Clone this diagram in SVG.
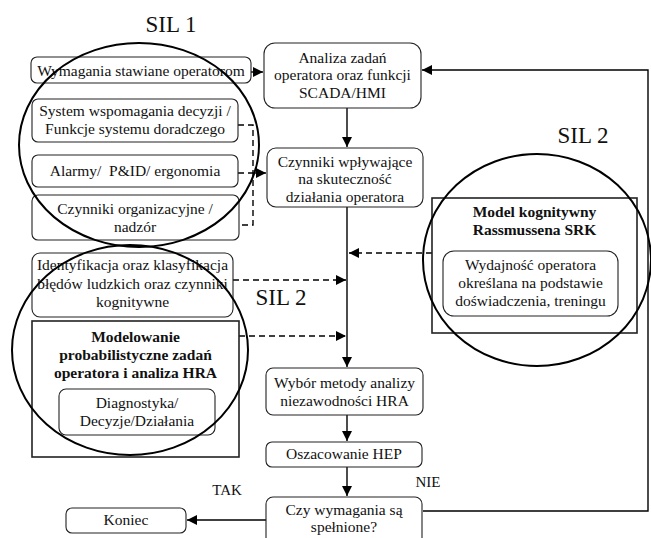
<svg xmlns="http://www.w3.org/2000/svg" width="651" height="538" viewBox="0 0 651 538">
<defs>
<marker id="ah" viewBox="0 0 10 10" refX="10" refY="5" markerWidth="10" markerHeight="10" markerUnits="userSpaceOnUse" orient="auto">
<path d="M0,0 L10,5 L0,10 z" fill="#000"/>
</marker>
<style>
text{font-family:"Liberation Serif","Times New Roman",serif;font-size:15.5px;fill:#111;text-anchor:middle}
.b{font-weight:bold}
.sil{font-size:23px}
.box{fill:#fff;stroke:#222;stroke-width:1.1}
.sq{fill:#fff;stroke:#222;stroke-width:1.6}
.ell{fill:none;stroke:#000;stroke-width:2}
.ln{fill:none;stroke:#000;stroke-width:1.4}
.dash{fill:none;stroke:#000;stroke-width:1.4;stroke-dasharray:6,4}
</style>
</defs>
<rect width="651" height="538" fill="#fff"/>

<g id="connectors">
<line class="ln" x1="251" y1="72" x2="263" y2="72" marker-end="url(#ah)"/>
<line class="ln" x1="347" y1="108" x2="347" y2="147" marker-end="url(#ah)"/>
<path class="dash" d="M238,125 H253 V225 H239"/>
<line class="dash" x1="238" y1="173" x2="253" y2="173"/>
<line class="ln" x1="253" y1="173" x2="266" y2="173" marker-end="url(#ah)"/>
<line class="ln" x1="347" y1="207" x2="347" y2="367" marker-end="url(#ah)"/>
<line class="dash" x1="432" y1="253" x2="349" y2="253" marker-end="url(#ah)"/>
<line class="dash" x1="233" y1="280" x2="346" y2="280" marker-end="url(#ah)"/>
<line class="dash" x1="239" y1="336" x2="346" y2="336" marker-end="url(#ah)"/>
<line class="ln" x1="347" y1="415" x2="347" y2="441" marker-end="url(#ah)"/>
<line class="ln" x1="347" y1="467" x2="347" y2="496" marker-end="url(#ah)"/>
<line class="ln" x1="266" y1="520" x2="187" y2="520" marker-end="url(#ah)"/>
<path class="ln" d="M423,511 H648 V70 H422" marker-end="url(#ah)"/>
</g>

<g id="wymagania"><rect class="box" x="31" y="57" width="220" height="26" rx="6"/><text x="141" y="76">Wymagania stawiane operatorom</text></g>
<g id="analiza"><rect class="box" x="264" y="43" width="157" height="65" rx="11"/><text x="342.5" y="63">Analiza zadań</text><text x="342.5" y="80">operatora oraz funkcji</text><text x="342.5" y="98">SCADA/HMI</text></g>
<g id="system"><rect class="box" x="32" y="99" width="206" height="43" rx="6"/><text x="135" y="116">System wspomagania decyzji /</text><text x="135" y="134">Funkcje systemu doradczego</text></g>
<g id="alarmy"><rect class="box" x="32" y="155" width="206" height="32" rx="6"/><text x="135" y="176" xml:space="preserve">Alarmy/  P&amp;ID/ ergonomia</text></g>
<g id="czynniki-org"><rect class="box" x="32" y="195" width="207" height="45" rx="6"/><text x="135" y="214">Czynniki organizacyjne /</text><text x="135" y="232">nadzór</text></g>
<g id="czynniki"><rect class="box" x="267" y="148" width="156" height="59" rx="9"/><text x="345" y="167">Czynniki wpływające</text><text x="345" y="184">na skuteczność</text><text x="345" y="202">działania operatora</text></g>
<g id="model"><rect class="sq" x="432" y="198" width="205" height="135"/><text class="b" x="534.5" y="217">Model kognitywny</text><text class="b" x="534.5" y="235">Rassmussena SRK</text></g>
<g id="wydajnosc"><rect class="box" x="443" y="251" width="175" height="65" rx="11"/><text x="530.5" y="270">Wydajność operatora</text><text x="530.5" y="288">określana na podstawie</text><text x="530.5" y="306">doświadczenia, treningu</text></g>
<g id="identyfikacja"><rect class="box" x="32" y="253" width="201" height="64" rx="8"/><text x="132.5" y="270">Identyfikacja oraz klasyfikacja</text><text x="132.5" y="289">błędów ludzkich oraz czynniki</text><text x="132.5" y="307">kognitywne</text></g>
<g id="modelowanie"><rect class="sq" x="32" y="321" width="207" height="136"/><text class="b" x="135.5" y="342">Modelowanie</text><text class="b" x="135.5" y="360">probabilistyczne zadań</text><text class="b" x="135.5" y="378">operatora i analiza HRA</text></g>
<g id="diagnostyka"><rect class="box" x="59" y="389" width="156" height="46" rx="7"/><text x="137" y="408">Diagnostyka/</text><text x="137" y="426">Decyzje/Działania</text></g>
<g id="wybor"><rect class="box" x="266" y="368" width="157" height="47" rx="7"/><text x="344.5" y="388">Wybór metody analizy</text><text x="344.5" y="406">niezawodności HRA</text></g>
<g id="oszacowanie"><rect class="box" x="266" y="442" width="156" height="25" rx="6"/><text x="344" y="459">Oszacowanie HEP</text></g>
<g id="czy"><rect class="box" x="266" y="497" width="156" height="50" rx="7"/><text x="344" y="515">Czy wymagania są</text><text x="344" y="532">spełnione?</text></g>
<g id="koniec"><rect class="box" x="66" y="508" width="120" height="25" rx="6"/><text x="126" y="525">Koniec</text></g>

<g id="labels">
<text x="227" y="495" style="font-size:15px">TAK</text>
<text x="428" y="487" style="font-size:15px">NIE</text>
<text class="sil" x="171" y="32">SIL 1</text>
<text class="sil" x="583" y="143">SIL 2</text>
<text class="sil" x="281" y="305">SIL 2</text>
</g>

<g id="sil-ellipses">
<ellipse class="ell" cx="139" cy="145" rx="120" ry="102"/>
<ellipse class="ell" cx="130" cy="350" rx="118" ry="105"/>
<ellipse class="ell" cx="537" cy="260" rx="114" ry="106"/>
</g>
</svg>
